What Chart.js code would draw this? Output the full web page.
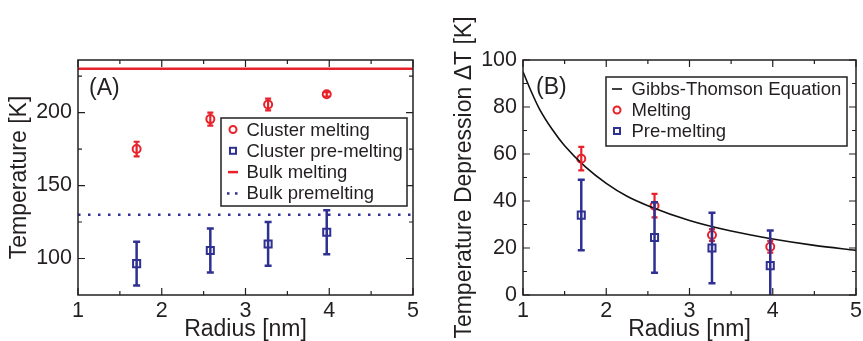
<!DOCTYPE html>
<html>
<head>
<meta charset="utf-8">
<script src="https://cdn.jsdelivr.net/npm/chart.js@4.4.0/dist/chart.umd.min.js"></script>
<style>
  html, body { margin: 0; padding: 0; background: #fff; }
  #wrapA { position: absolute; left: 0; top: 0; width: 430px; height: 341px; }
  #wrapB { position: absolute; left: 430px; top: 0; width: 433px; height: 341px; }
</style>
</head>
<body>
<div id="wrapA"><canvas id="chartA"></canvas></div>
<div id="wrapB"><canvas id="chartB"></canvas></div>
<script>
// values
const radius = [1.70, 2.58, 3.27, 3.97];

// panel A
const clusterMelting = [175, 195.5, 205.5, 212.5];
const clusterMeltingErr = [5, 4.5, 4, 1.5];
const clusterPreMelting = [96.5, 105.5, 110, 118];
const clusterPreMeltingErr = [15, 15, 15, 15];
const bulkMelting = 230;
const bulkPremelting = 130;

// panel B
const dtMelting = [58, 38, 25.5, 20.5];
const dtMeltingErr = [5, 5, 2.5, 2.5];
const dtPreMelting = [34, 24.5, 20, 12.5];
const dtPreMeltingErr = [15, 15, 15, 15];
// Gibbs-Thomson curve
const gtRadius = [1, 1.1, 1.2, 1.35, 1.5, 1.75, 2, 2.25, 2.5, 3, 3.5, 4, 4.5, 5];
const gtDepression = [95, 86.5, 79, 70.5, 63.5, 54.5, 47.5, 42, 38, 31.7, 27.2, 23.8, 21.1, 19];

// tick labels
const xTicks = [1, 2, 3, 4, 5];
const xMinor = [1.5, 2.5, 3.5, 4.5];
const yTicksA = [100, 150, 200];
const yMinorA = [125, 175, 225];
const yTicksB = [0, 20, 40, 60, 80, 100];
const yMinorB = [10, 30, 50, 70, 90];

const RED = '#e8222a';
const BLUE = '#2e3192';
const INK = '#231f20';
const FONT = "'Liberation Sans', Arial, Helvetica, sans-serif";

const pts = (xs, ys) => xs.map((x, i) => ({x: x, y: ys[i]}));

// vertical error bars, drawn through the y scale
const errorBars = {
  id: 'errorBars',
  afterDatasetsDraw(chart) {
    const {ctx, chartArea: a, scales: {y}} = chart;
    ctx.save();
    ctx.beginPath();
    ctx.rect(a.left, a.top, a.right - a.left, a.bottom - a.top);
    ctx.clip();
    chart.data.datasets.forEach((ds, i) => {
      if (!ds.errors) return;
      const meta = chart.getDatasetMeta(i);
      ctx.strokeStyle = ds.borderColor;
      ctx.lineWidth = ds.errWidth;
      meta.data.forEach((pt, j) => {
        const v = ds.data[j].y, e = ds.errors[j];
        const top = y.getPixelForValue(v + e), bot = y.getPixelForValue(v - e);
        const c = ds.capWidth / 2;
        ctx.beginPath();
        ctx.moveTo(pt.x, top); ctx.lineTo(pt.x, bot);
        ctx.moveTo(pt.x - c, top); ctx.lineTo(pt.x + c, top);
        ctx.moveTo(pt.x - c, bot); ctx.lineTo(pt.x + c, bot);
        ctx.stroke();
      });
    });
    ctx.restore();
  }
};

// box round the plot with inward ticks on all four sides
const frame = {
  id: 'frame',
  afterDraw(chart, args, opts) {
    const {ctx, chartArea: a, scales: {x, y}} = chart;
    ctx.save();
    ctx.strokeStyle = INK;
    ctx.lineWidth = 1.2;
    const xt = (vals, len) => vals.forEach(v => {
      const px = x.getPixelForValue(v);
      ctx.beginPath();
      ctx.moveTo(px, a.bottom); ctx.lineTo(px, a.bottom - len);
      ctx.moveTo(px, a.top); ctx.lineTo(px, a.top + len);
      ctx.stroke();
    });
    const yt = (vals, len) => vals.forEach(v => {
      const py = y.getPixelForValue(v);
      ctx.beginPath();
      ctx.moveTo(a.left, py); ctx.lineTo(a.left + len, py);
      ctx.moveTo(a.right, py); ctx.lineTo(a.right - len, py);
      ctx.stroke();
    });
    xt(xTicks, 7); xt(xMinor, 4);
    yt(opts.major, 7); yt(opts.minor, 4);
    ctx.lineWidth = 1.5;
    ctx.strokeRect(a.left, a.top, a.right - a.left, a.bottom - a.top);

    // panel letter
    ctx.fillStyle = INK;
    ctx.font = '23px ' + FONT;
    ctx.textBaseline = 'middle';
    ctx.fillText(opts.letter[0], opts.letter[1], opts.letter[2]);
    ctx.restore();
  }
};

// boxed legend inside the plot
const boxLegend = {
  id: 'boxLegend',
  afterDraw(chart, args, o) {
    const ctx = chart.ctx;
    ctx.save();
    ctx.fillStyle = '#fff';
    ctx.fillRect(o.x, o.y, o.w, o.h);
    ctx.strokeStyle = INK;
    ctx.lineWidth = 1.5;
    ctx.strokeRect(o.x, o.y, o.w, o.h);
    ctx.font = '18.5px ' + FONT;
    ctx.textBaseline = 'middle';
    o.order.forEach((di, k) => {
      const ds = chart.data.datasets[di];
      const cy = o.firstRow + k * o.rowGap;
      ctx.strokeStyle = ds.borderColor;
      ctx.lineWidth = 2;
      ctx.setLineDash([]);
      if (ds.showLine) {
        ctx.lineWidth = ds.borderWidth;
        if (ds.borderDash) {
          ctx.fillStyle = ds.borderColor;
          ctx.fillRect(o.markX - 6, cy - 1.2, 2.5, 2.5);
          ctx.fillRect(o.markX + 2, cy - 1.2, 2.5, 2.5);
        } else {
          ctx.beginPath();
          ctx.moveTo(o.markX - 5, cy); ctx.lineTo(o.markX + 5, cy);
          ctx.stroke();
        }
      } else if (ds.pointStyle === 'rect') {
        ctx.strokeRect(o.markX - 3, cy - 3, 6, 6);
      } else {
        ctx.beginPath();
        ctx.arc(o.markX, cy, 3.5, 0, Math.PI * 2);
        ctx.stroke();
      }
      ctx.fillStyle = INK;
      ctx.fillText(ds.label, o.textX, cy + 1);
    });
    ctx.restore();
  }
};

function axes(yMin, yMax, yTicks, yTitle, yWidth, titlePad) {
  return {
    x: {
      type: 'linear', min: 1, max: 5,
      grid: { display: false, drawTicks: false }, border: { display: false },
      ticks: { color: INK, font: { family: FONT, size: 21.5 }, padding: 3, maxRotation: 0 },
      afterBuildTicks: s => { s.ticks = xTicks.map(v => ({ value: v })); },
      afterFit: s => { s.height = 46; s.paddingLeft = 0; s.paddingRight = 0; },
      title: { display: true, text: 'Radius [nm]', color: INK, padding: 0,
               font: { family: FONT, size: 23, lineHeight: 1 } }
    },
    y: {
      type: 'linear', min: yMin, max: yMax,
      grid: { display: false, drawTicks: false }, border: { display: false },
      ticks: { color: INK, font: { family: FONT, size: 21.5 }, padding: 6 },
      afterBuildTicks: s => { s.ticks = yTicks.map(v => ({ value: v })); },
      afterFit: s => { s.width = yWidth; s.paddingTop = 0; s.paddingBottom = 0; },
      title: { display: true, text: yTitle, color: INK, padding: { top: titlePad, bottom: 0 },
               font: { family: FONT, size: 23, lineHeight: 1.2 } }
    }
  };
}

new Chart(document.getElementById('chartA'), {
  type: 'scatter',
  data: {
    datasets: [
      { label: 'Cluster melting', data: pts(radius, clusterMelting), errors: clusterMeltingErr,
        borderColor: RED, backgroundColor: 'transparent', pointStyle: 'circle',
        pointRadius: 4, borderWidth: 2, errWidth: 2.2, capWidth: 6 },
      { label: 'Cluster pre-melting', data: pts(radius, clusterPreMelting), errors: clusterPreMeltingErr,
        borderColor: BLUE, backgroundColor: 'transparent', pointStyle: 'rect',
        pointRadius: 5, borderWidth: 2, errWidth: 2.5, capWidth: 7 },
      { label: 'Bulk melting', data: pts([1, 5], [bulkMelting, bulkMelting]), showLine: true,
        borderColor: RED, borderWidth: 2.5, pointRadius: 0 },
      { label: 'Bulk premelting', data: pts([1, 5], [bulkPremelting, bulkPremelting]), showLine: true,
        borderColor: BLUE, borderWidth: 2.5, borderDash: [2.5, 7.5], pointRadius: 0 }
    ]
  },
  options: {
    responsive: true, maintainAspectRatio: false, animation: false,
    layout: { padding: { top: 60, right: 17, left: 0, bottom: 0 } },
    scales: axes(75, 236, yTicksA, 'Temperature [K]', 78, 6),
    plugins: {
      legend: { display: false }, tooltip: { enabled: false },
      frame: { major: yTicksA, minor: yMinorA, letter: ['(A)', 89, 89] },
      boxLegend: { x: 221, y: 118, w: 186, h: 88, firstRow: 129.5, rowGap: 21.3,
                   markX: 233, textX: 246.5, order: [0, 1, 2, 3] }
    }
  },
  plugins: [errorBars, frame, boxLegend]
});

new Chart(document.getElementById('chartB'), {
  type: 'scatter',
  data: {
    datasets: [
      { label: 'Gibbs-Thomson Equation', data: pts(gtRadius, gtDepression), showLine: true,
        borderColor: '#111', borderWidth: 1.6, pointRadius: 0, cubicInterpolationMode: 'monotone' },
      { label: 'Melting', data: pts(radius, dtMelting), errors: dtMeltingErr,
        borderColor: RED, backgroundColor: 'transparent', pointStyle: 'circle',
        pointRadius: 4, borderWidth: 2, errWidth: 2.2, capWidth: 6 },
      { label: 'Pre-melting', data: pts(radius, dtPreMelting), errors: dtPreMeltingErr,
        borderColor: BLUE, backgroundColor: 'transparent', pointStyle: 'rect',
        pointRadius: 5, borderWidth: 2, errWidth: 2.5, capWidth: 7 }
    ]
  },
  options: {
    responsive: true, maintainAspectRatio: false, animation: false,
    layout: { padding: { top: 60, right: 5, left: 0, bottom: 0 } },
    scales: axes(0, 100, yTicksB, 'Temperature Depression \u0394T [K]', 93, 21),
    plugins: {
      legend: { display: false }, tooltip: { enabled: false },
      frame: { major: yTicksB, minor: yMinorB, letter: ['(B)', 106, 88] },
      boxLegend: { x: 176, y: 77, w: 241, h: 69, firstRow: 89, rowGap: 21,
                   markX: 187, textX: 201.5, order: [0, 1, 2] }
    }
  },
  plugins: [errorBars, frame, boxLegend]
});
</script>
</body>
</html>
